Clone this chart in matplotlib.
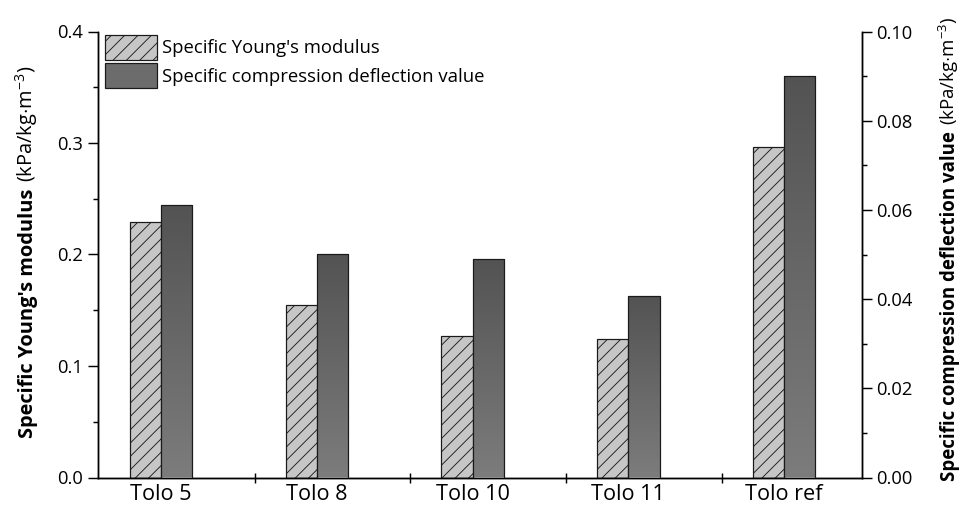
import numpy as np
import matplotlib
matplotlib.use("Agg")
import matplotlib.pyplot as plt
from matplotlib.patches import Patch
from matplotlib.colors import LinearSegmentedColormap
from matplotlib.ticker import MultipleLocator, FixedLocator, FormatStrFormatter

plt.rcParams['font.family'] = ['Open Sans', 'DejaVu Sans']
plt.rcParams['mathtext.fontset'] = 'custom'
plt.rcParams['mathtext.rm'] = 'Open Sans'
plt.rcParams['mathtext.it'] = 'Open Sans:italic'
plt.rcParams['mathtext.bf'] = 'Open Sans:bold'
plt.rcParams['hatch.linewidth'] = 0.8
plt.rcParams['hatch.color'] = '#2a2a2a'

# ---- data ----
samples = ["Tolo 5", "Tolo 8", "Tolo 10", "Tolo 11", "Tolo ref"]
youngs_modulus = [0.229, 0.155, 0.127, 0.124, 0.296]          # kPa/kg·m^-3 (left axis)
compression_deflection = [0.0610, 0.0502, 0.0491, 0.0407, 0.0900]  # kPa/kg·m^-3 (right axis)

DPI = 80
W, H = 969, 508
fig = plt.figure(figsize=(W / DPI, H / DPI), dpi=DPI)
ax_l, ax_r, ax_t, ax_b = 97.5, 862, 31.5, 477.5
ax = fig.add_axes([ax_l / W, (H - ax_b) / H, (ax_r - ax_l) / W, (ax_b - ax_t) / H])
ax2 = ax.twinx()

x = np.arange(1, len(samples) + 1)
w = 0.2
lw = 1.3
HATCH = '//'

# hatched bars on the left axis
ax.bar(x - w / 2, youngs_modulus, width=w, color='#c6c6c6', edgecolor='#1a1a1a',
       linewidth=1.1, hatch=HATCH, zorder=2)

# gradient-filled bars on the right axis
grad_cmap = LinearSegmentedColormap.from_list('g', ['#7c7c7c', '#535353'])
bars2 = ax2.bar(x + w / 2, compression_deflection, width=w, facecolor='none',
                edgecolor='#1a1a1a', linewidth=1.1, zorder=3)
grad = np.linspace(0, 1, 256).reshape(-1, 1)
for b in bars2:
    x0, y0, bw, bh = b.get_x(), b.get_y(), b.get_width(), b.get_height()
    im = ax2.imshow(grad, cmap=grad_cmap, origin='lower', aspect='auto',
                    extent=(x0, x0 + bw, y0, y0 + bh), zorder=2, interpolation='bilinear')
    im.set_clip_path(b)

ax.set_xlim(0.592, 5.5)
ax.set_ylim(0, 0.4)
ax2.set_ylim(0, 0.10)
ax2.set_xlim(0.592, 5.5)

# spines
for a in (ax, ax2):
    for s in a.spines.values():
        s.set_linewidth(lw)
    a.spines['top'].set_visible(False)

# left axis ticks
ax.yaxis.set_major_locator(MultipleLocator(0.1))
ax.yaxis.set_minor_locator(MultipleLocator(0.05))
ax.yaxis.set_major_formatter(FormatStrFormatter('%.1f'))
ax.tick_params(axis='y', which='major', direction='out', length=9, width=lw,
               labelsize=16.5, pad=4)
ax.tick_params(axis='y', which='minor', direction='out', length=4.5, width=lw)

# right axis ticks
ax2.yaxis.set_major_locator(MultipleLocator(0.02))
ax2.yaxis.set_minor_locator(MultipleLocator(0.01))
ax2.yaxis.set_major_formatter(FormatStrFormatter('%.2f'))
ax2.tick_params(axis='y', which='major', direction='out', length=9, width=lw,
                labelsize=16.5, pad=4)
ax2.tick_params(axis='y', which='minor', direction='out', length=4.5, width=lw)

# x axis: labels at group centres, marks between groups
ax.set_xticks(x)
ax.set_xticklabels(samples)
ax.xaxis.set_minor_locator(FixedLocator(x[:-1] + 0.6))
ax.tick_params(axis='x', which='major', length=0, labelsize=19.5, pad=6)
ax.tick_params(axis='x', which='minor', direction='inout', length=9, width=lw)
ax2.tick_params(axis='x', which='both', length=0, labelbottom=False)

# legend
leg_fs = 16.7
handles = [Patch(facecolor='#c6c6c6', edgecolor='#1a1a1a', hatch=HATCH, linewidth=1.1),
           Patch(facecolor='#6c6c6c', edgecolor='#1a1a1a', linewidth=1.1)]
ax_w_px, ax_h_px = ax_r - ax_l, ax_b - ax_t
leg = ax2.legend(handles, ["Specific Young's modulus", "Specific compression deflection value"],
                 loc='upper left', bbox_to_anchor=(7.5 / ax_w_px, 1 - 3.5 / ax_h_px),
                 frameon=False, fontsize=leg_fs, handlelength=2.8, handleheight=1.69,
                 labelspacing=0.18, handletextpad=0.28, borderaxespad=0, borderpad=0)


def mixed_label(xpix, ycenter_pix, bold_part, normal_part, size):
    """Vertical label with a bold lead part followed by a regular part."""
    t1 = fig.text(0, 0, bold_part, rotation=90, rotation_mode='anchor',
                  ha='left', va='baseline', fontsize=size, fontweight='bold')
    t2 = fig.text(0, 0, normal_part, rotation=90, rotation_mode='anchor',
                  ha='left', va='baseline', fontsize=size)
    fig.canvas.draw()
    r = fig.canvas.get_renderer()
    h1 = t1.get_window_extent(r).height
    h2 = t2.get_window_extent(r).height
    gap = size * 0.3 * DPI / 72
    total = h1 + gap + h2
    y0 = (H - ycenter_pix) - total / 2
    t1.set_position((xpix / W, y0 / H))
    t2.set_position((xpix / W, (y0 + h1 + gap) / H))


mixed_label(33, 252, "Specific Young's modulus", r"(kPa/kg$\cdot$m$^{-3}$)", 18)
mixed_label(955, 249, "Specific compression deflection value",
            r"(kPa/kg$\cdot$m$^{-3}$)", 16.8)

fig.savefig('out.png', dpi=DPI, facecolor='white')
